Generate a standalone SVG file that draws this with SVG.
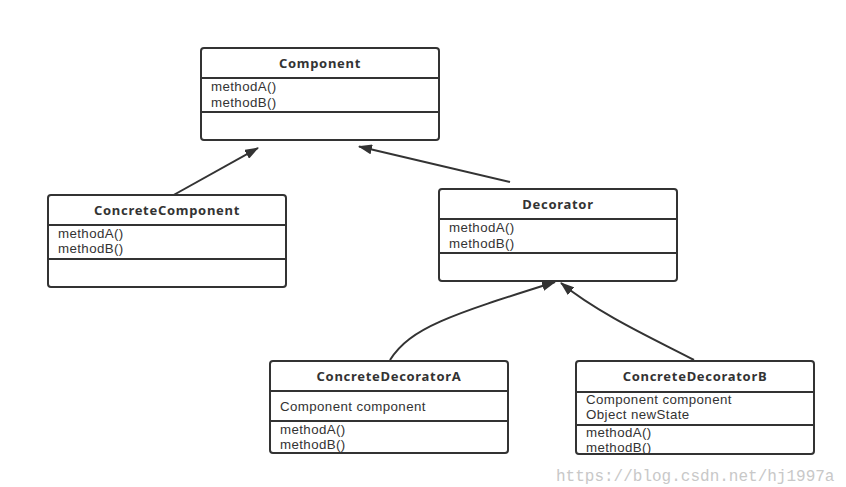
<svg xmlns="http://www.w3.org/2000/svg" width="846" height="487" viewBox="0 0 846 487">
<style>
.box{fill:#fff;stroke:#333;stroke-width:2}
.div{stroke:#333;stroke-width:2}
.t{font-family:"Noto Sans",sans-serif;font-size:13px;font-weight:bold;fill:#333;text-anchor:middle;letter-spacing:0.7px}
.m{font-family:"Liberation Sans",Arial,sans-serif;font-size:13.3px;fill:#333;letter-spacing:0.4px}
.c{fill:none;stroke:#333;stroke-width:2}
.wm{font-family:"Liberation Mono",monospace;font-size:16px;fill:#c8c8c8}
</style>
<defs>
<marker id="arr" viewBox="0 0 14 10" refX="13" refY="5" markerWidth="14" markerHeight="10" markerUnits="userSpaceOnUse" orient="auto">
<path d="M0,0 L14,5 L0,10 Z" fill="#333"/>
</marker>
</defs>
<rect width="846" height="487" fill="#fff"/>
<g id="connectors">
<path class="c" d="M170,197 L258,148" marker-end="url(#arr)"/>
<path class="c" d="M510,182 L359,146.5" marker-end="url(#arr)"/>
<path class="c" d="M390,360 C410,328 450,315 555,282" marker-end="url(#arr)"/>
<path class="c" d="M694,360 C660,342 600,315 561,283" marker-end="url(#arr)"/>
</g>
<g id="Component">
<rect class="box" x="201" y="48" width="238" height="92" rx="3"/>
<line class="div" x1="201" y1="78" x2="439" y2="78"/>
<line class="div" x1="201" y1="112" x2="439" y2="112"/>
<text class="t" x="320" y="68">Component</text>
<text class="m" x="211" y="91">methodA()</text>
<text class="m" x="211" y="107">methodB()</text>
</g>
<g id="ConcreteComponent">
<rect class="box" x="48" y="195" width="238" height="92" rx="3"/>
<line class="div" x1="48" y1="225" x2="286" y2="225"/>
<line class="div" x1="48" y1="259" x2="286" y2="259"/>
<text class="t" x="167" y="215">ConcreteComponent</text>
<text class="m" x="58" y="238">methodA()</text>
<text class="m" x="58" y="253">methodB()</text>
</g>
<g id="Decorator">
<rect class="box" x="439" y="189" width="238" height="92" rx="3"/>
<line class="div" x1="439" y1="219" x2="677" y2="219"/>
<line class="div" x1="439" y1="253" x2="677" y2="253"/>
<text class="t" x="558" y="209">Decorator</text>
<text class="m" x="449" y="232">methodA()</text>
<text class="m" x="449" y="248">methodB()</text>
</g>
<g id="ConcreteDecoratorA">
<rect class="box" x="270" y="361" width="238" height="92" rx="3"/>
<line class="div" x1="270" y1="391" x2="508" y2="391"/>
<line class="div" x1="270" y1="421" x2="508" y2="421"/>
<text class="t" x="389" y="381">ConcreteDecoratorA</text>
<text class="m" x="280" y="411">Component component</text>
<text class="m" x="280" y="434">methodA()</text>
<text class="m" x="280" y="449">methodB()</text>
</g>
<g id="ConcreteDecoratorB">
<rect class="box" x="576" y="361" width="238" height="93" rx="3"/>
<line class="div" x1="576" y1="392" x2="814" y2="392"/>
<line class="div" x1="576" y1="425" x2="814" y2="425"/>
<text class="t" x="695" y="381">ConcreteDecoratorB</text>
<text class="m" x="586" y="404">Component component</text>
<text class="m" x="586" y="419">Object newState</text>
<text class="m" x="586" y="437">methodA()</text>
<text class="m" x="586" y="452">methodB()</text>
</g>
<text class="wm" x="556" y="481">https://blog.csdn.net/hj1997a</text>
</svg>
